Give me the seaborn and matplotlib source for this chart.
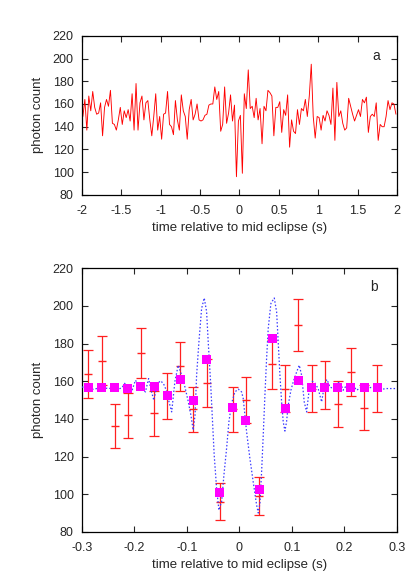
import numpy as np
import pandas as pd
import matplotlib
matplotlib.use("Agg")
import matplotlib.pyplot as plt
from matplotlib.ticker import FuncFormatter
import seaborn as sns

# photon counts in 0.025 s bins
counts = [149, 164, 137, 167, 154, 171, 157, 151, 152, 161,
          132, 157, 164, 158, 172, 143, 142, 137, 146, 157,
          142, 154, 148, 155, 145, 169, 137, 178, 137, 161,
          167, 146, 161, 163, 146, 132, 149, 169, 137, 149,
          129, 151, 152, 171, 142, 140, 133, 163, 146, 137,
          168, 154, 149, 129, 155, 164, 146, 151, 160, 146,
          145, 146, 150, 151, 159, 160, 160, 175,
          164, 171, 136, 142, 175, 143, 152, 168, 145, 159,
          96, 145, 150, 99, 169, 156, 190, 156, 158, 148,
          165, 146, 156,
          125, 158, 154, 172, 170, 167, 132, 157, 157, 162,
          135, 155, 150, 168, 122, 146, 136, 134, 155, 142,
          156, 154, 164, 149, 167, 195, 149, 130, 149, 148, 137,
          150, 145, 154, 150, 142, 174, 128, 179, 149, 154,
          143, 137, 139, 165, 158, 151, 145, 150, 155, 149,
          164, 161, 166, 135, 149, 151, 149, 161, 128, 142,
          140, 140, 149, 163, 155, 161, 160, 151]
bin_start = -1.9875
bin_width = 0.025

# panel b: the bins that fall inside +-0.3 s
zoom_first, zoom_last = 68, 90
count_err = [12.8, 13.1, 11.7, 11.9, 13.2, 12.0, 12.3, 13.0, 12.0, 12.6,
             9.8, 12.0, 12.2, 9.9, 13.0, 12.5, 13.8, 12.5, 12.6, 12.2,
             12.8, 12.1, 12.5]
model_binned = [156.5, 156.4, 156.4, 155.9, 157.0, 157.0, 152.5, 161.1,
                149.8, 171.7, 100.9, 146.0, 139.1, 102.3, 182.5, 145.7,
                160.2, 156.5, 156.5, 156.4, 156.4, 156.7, 156.4]

# model light curve (blue dotted)
model_t = [-0.300, -0.290, -0.281, -0.270, -0.262, -0.252, -0.243, -0.233,
           -0.224, -0.2175, -0.211, -0.204, -0.198, -0.192, -0.186, -0.179,
           -0.173, -0.168, -0.163, -0.157, -0.151, -0.145, -0.139, -0.134,
           -0.129, -0.1228, -0.1165, -0.110, -0.1038, -0.098, -0.0924, -0.088,
           -0.0845, -0.0815, -0.0771, -0.072, -0.067, -0.0625, -0.0594, -0.0549,
           -0.0518, -0.048, -0.0434, -0.039, -0.0339, -0.0295, -0.0244, -0.020,
           -0.0149, -0.0086, -0.0022, 0.0042, 0.0073, 0.0137, 0.020, 0.0263,
           0.0328, 0.0359, 0.0391, 0.0423, 0.0454, 0.0486, 0.0518, 0.0549,
           0.060, 0.0664, 0.0709, 0.0739, 0.0772, 0.0804, 0.0835, 0.0867,
           0.0898, 0.093, 0.0981, 0.1025, 0.109, 0.114, 0.1185, 0.1235,
           0.128, 0.1324, 0.1387, 0.1438, 0.150, 0.1566, 0.163, 0.167,
           0.172, 0.1788, 0.185, 0.1915, 0.1978, 0.204, 0.2138, 0.2233,
           0.233, 0.2423, 0.255, 0.2677, 0.2805, 0.300]
model_val = [157.0, 156.0, 155.6, 156.2, 155.8, 156.3, 156.1, 155.5,
             156.5, 159.1, 154.7, 155.5, 160.5, 158.0, 156.1, 154.3,
             161.4, 155.0, 149.9, 158.0, 160.2, 159.0, 155.0, 149.0,
             143.7, 160.0, 168.5, 163.2, 157.0, 149.9, 142.0, 134.0,
             142.0, 163.2, 180.9, 198.6, 204.2, 197.0, 180.9, 159.6,
             142.0, 120.7, 103.0, 91.5, 96.0, 110.1, 124.3, 138.4,
             148.2, 154.3, 155.8, 154.3, 150.8, 133.1, 119.0, 106.5,
             94.2, 90.0, 95.0, 111.9, 131.3, 152.6, 172.0, 188.0,
             201.3, 204.2, 196.8, 180.9, 163.2, 149.0, 138.4, 133.5,
             138.4, 147.3, 155.2, 159.6, 164.9, 168.5, 163.2, 149.0,
             143.7, 154.3, 160.0, 159.0, 156.1, 149.0, 159.6, 160.9,
             157.0, 156.1, 158.8, 159.6, 155.2, 157.9, 158.8, 155.2,
             157.0, 156.1, 157.0, 155.6, 156.1, 156.1]

times = bin_start + bin_width * np.arange(len(counts))
df_a = pd.DataFrame({"t": times, "counts": counts})
df_b = df_a.iloc[zoom_first:zoom_last + 1].copy()
df_b["err"] = count_err
df_b["model"] = model_binned
df_model = pd.DataFrame({"t": model_t, "val": model_val})

sns.set_style("ticks")
plt.rcParams["font.family"] = ["Liberation Sans", "DejaVu Sans"]
plt.rcParams["axes.unicode_minus"] = False

fig = plt.figure(figsize=(4.2, 5.87), dpi=100)
ax_a = fig.add_axes([0.195, 0.668, 0.75, 0.271])
ax_b = fig.add_axes([0.195, 0.094, 0.75, 0.449])

fmt = FuncFormatter(lambda v, p: "%g" % round(v, 6))

def style_axes(ax):
    ax.tick_params(direction="in", top=True, right=True, length=4,
                   width=0.8, labelsize=9)
    ax.tick_params(axis="x", pad=7)
    ax.tick_params(axis="y", pad=6)
    for s in ax.spines.values():
        s.set_linewidth(0.9)
        s.set_color("black")
    ax.set_ylabel("photon count", fontsize=9.5, labelpad=6)
    ax.set_xlabel("time relative to mid eclipse (s)", fontsize=9.5, labelpad=4)
    ax.set_ylim(80, 220)
    ax.set_yticks(range(80, 221, 20))
    ax.xaxis.set_major_formatter(fmt)

# panel a
sns.lineplot(data=df_a, x="t", y="counts", ax=ax_a, color="#ff0000",
             linewidth=0.65)
ax_a.set_xlim(-2, 2)
ax_a.set_xticks(np.arange(-2, 2.01, 0.5))
style_axes(ax_a)
ax_a.text(0.933, 0.87, "a", transform=ax_a.transAxes, fontsize=10,
          ha="center", va="center")

# panel b
ax_b.errorbar(df_b["t"], df_b["counts"], yerr=df_b["err"], fmt="_",
              color="#ff2020", ecolor="#ff2020", elinewidth=0.9,
              capsize=3.5, capthick=0.9, markersize=6, zorder=2)
sns.lineplot(data=df_model, x="t", y="val", ax=ax_b, color="#3a3aff",
             linewidth=0.9, linestyle=(0, (1.2, 1.6)), zorder=3)
sns.scatterplot(data=df_b, x="t", y="model", ax=ax_b, marker="s",
                color="#ff00ff", edgecolor="none", s=42, zorder=4)
ax_b.set_xlim(-0.3, 0.3)
ax_b.set_xticks(np.arange(-0.3, 0.31, 0.1))
style_axes(ax_b)
ax_b.text(0.927, 0.929, "b", transform=ax_b.transAxes, fontsize=10,
          ha="center", va="center")

fig.savefig("out.png", dpi=100)
